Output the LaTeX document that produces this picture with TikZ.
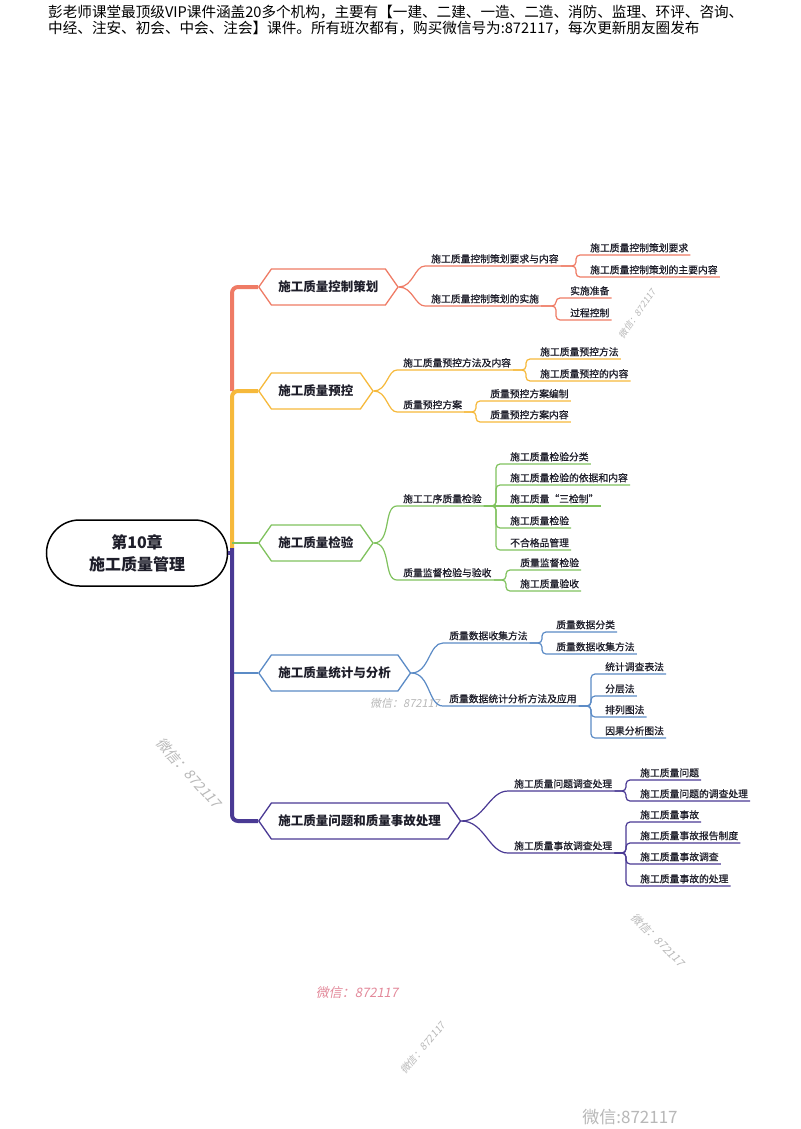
\documentclass[tikz,border=0pt]{standalone}
\usepackage{fontspec}
\setmainfont{Noto Sans CJK SC}
\newfontfamily\wmfont[FakeSlant=0.2]{Noto Sans CJK SC}
\newfontfamily\topicfont[FakeBold=0.7]{Noto Sans CJK SC}
\usetikzlibrary{shapes.symbols}

\definecolor{planred}{HTML}{EF7B65}
\definecolor{planyel}{HTML}{F6B93B}
\definecolor{plangrn}{HTML}{80C25E}
\definecolor{planblu}{HTML}{5B8BC6}
\definecolor{planpur}{HTML}{4A3A94}
\definecolor{inkcol}{HTML}{1E1E2A}
\definecolor{wmgray}{HTML}{B8B8B8}
\definecolor{wmpink}{HTML}{E3899A}

\begin{document}
\begin{tikzpicture}[x=1pt, y=-1pt,
    hexa/.style={signal, signal to=west and east, signal pointer angle=110,
      draw=#1, fill=white, line width=1.3, minimum height=36, inner xsep=7,
      anchor=west, text=inkcol, font=\bfseries\fontsize{12.5}{14}\selectfont},
    topic/.style={anchor=south west, inner xsep=2, inner ysep=2.5, text=inkcol,
      font=\topicfont\fontsize{9.8}{11}\selectfont},
    spine/.style={line width=4, rounded corners=6},
    hub/.style={line width=2.5},
    twig/.style={line width=1.2, rounded corners=4},
    wmark/.style={text=wmgray, font=\wmfont\fontsize{#1}{#1}\selectfont},
  ]
    \fill[white] (0,0) rectangle (800,1129);
    \useasboundingbox (0,0) rectangle (800,1129);

    % Header
    \node[anchor=west, inner sep=0, font=\fontsize{14.6}{16}\selectfont] (head1) at (48,12)
      {彭老师课堂最顶级VIP课件涵盖20多个机构，主要有【一建、二建、一造、二造、消防、监理、环评、咨询、};
    \node[anchor=west, inner sep=0, font=\fontsize{14.6}{16}\selectfont] (head2) at (48,28)
      {中经、注安、初会、中会、注会】课件。所有班次都有，购买微信号为:872117，每次更新朋友圈发布};

    % Watermarks
    \node[wmark=11] (wm2) at (405,703) {微信：872117};

    % Root
    \node[draw=black, line width=1.5, rounded corners=33, minimum width=181, minimum height=66,
      align=center, text=inkcol, font=\bfseries\fontsize{16}{22}\selectfont] (root) at (137,553)
      {第10章\\施工质量管理};

    % Main branches
    \node[hexa=planred] (plan) at (258,287) {施工质量控制策划};
    \node[hexa=planyel] (prev) at (258,391) {施工质量预控};
    \node[hexa=plangrn] (insp) at (258,543) {施工质量检验};
    \node[hexa=planblu] (stat) at (258,673) {施工质量统计与分析};
    \node[hexa=planpur] (fault) at (258,821) {施工质量问题和质量事故处理};

    % Spine
    \coordinate (sp1) at (232,391);
    \coordinate (sp2) at (232,548);
    \coordinate (sp3) at (232,543);
    \coordinate (sp4) at (232,673);
    \draw[planred, spine] (plan.west) -| (sp1);
    \draw[planyel, spine] (prev.west) -| (sp2);
    \draw[plangrn, hub] (sp3) -- (insp.west);
    \draw[planblu, hub] (sp4) -- (stat.west);
    \draw[planpur, spine] (sp2) |- (fault.west);
    \draw[planpur, line width=4] (root.east) -- (root.east -| sp2);

    % Branch 1
    \node[topic] (planreq) at (429,266) {施工质量控制策划要求与内容};
    \node[topic] (planreq1) at (588,255) {施工质量控制策划要求};
    \node[topic] (planreq2) at (588,277) {施工质量控制策划的主要内容};
    \node[topic] (planimp) at (429,306) {施工质量控制策划的实施};
    \node[topic] (planimp1) at (568,298) {实施准备};
    \node[topic] (planimp2) at (568,320) {过程控制};
    \draw[planred, twig] (plan.east) to[out=0, in=180] (planreq.south west) -- (planreq.south east);
    \draw[planred, twig] (plan.east) to[out=0, in=180] (planimp.south west) -- (planimp.south east);
    \draw[planred, twig] (planreq.south east) -| ([xshift=-12pt]planreq1.south west) -- (planreq1.south east);
    \draw[planred, twig] (planreq.south east) -| ([xshift=-12pt]planreq2.south west) -- (planreq2.south east);
    \draw[planred, twig] (planimp.south east) -| ([xshift=-12pt]planimp1.south west) -- (planimp1.south east);
    \draw[planred, twig] (planimp.south east) -| ([xshift=-12pt]planimp2.south west) -- (planimp2.south east);

    % Branch 2
    \node[topic] (prevway) at (401,370) {施工质量预控方法及内容};
    \node[topic] (prevway1) at (538,359) {施工质量预控方法};
    \node[topic] (prevway2) at (538,381) {施工质量预控的内容};
    \node[topic] (prevplan) at (401,412) {质量预控方案};
    \node[topic] (prevplan1) at (488,401) {质量预控方案编制};
    \node[topic] (prevplan2) at (488,422) {质量预控方案内容};
    \draw[planyel, twig] (prev.east) to[out=0, in=180] (prevway.south west) -- (prevway.south east);
    \draw[planyel, twig] (prev.east) to[out=0, in=180] (prevplan.south west) -- (prevplan.south east);
    \draw[planyel, twig] (prevway.south east) -| ([xshift=-12pt]prevway1.south west) -- (prevway1.south east);
    \draw[planyel, twig] (prevway.south east) -| ([xshift=-12pt]prevway2.south west) -- (prevway2.south east);
    \draw[planyel, twig] (prevplan.south east) -| ([xshift=-12pt]prevplan1.south west) -- (prevplan1.south east);
    \draw[planyel, twig] (prevplan.south east) -| ([xshift=-12pt]prevplan2.south west) -- (prevplan2.south east);

    % Branch 3
    \node[topic] (inspstep) at (401,506) {施工工序质量检验};
    \node[topic] (inspstep1) at (508,464) {施工质量检验分类};
    \node[topic] (inspstep2) at (508,485) {施工质量检验的依据和内容};
    \node[topic] (inspstep3) at (508,506) {施工质量“三检制”};
    \node[topic] (inspstep4) at (508,528) {施工质量检验};
    \node[topic] (inspstep5) at (508,550) {不合格品管理};
    \node[topic] (inspsup) at (401,580) {质量监督检验与验收};
    \node[topic] (inspsup1) at (518,570) {质量监督检验};
    \node[topic] (inspsup2) at (518,591) {施工质量验收};
    \draw[plangrn, twig] (insp.east) to[out=0, in=180] (inspstep.south west) -- (inspstep.south east);
    \draw[plangrn, twig] (insp.east) to[out=0, in=180] (inspsup.south west) -- (inspsup.south east);
    \draw[plangrn, twig] (inspstep.south east) -| ([xshift=-12pt]inspstep1.south west) -- (inspstep1.south east);
    \draw[plangrn, twig] (inspstep.south east) -| ([xshift=-12pt]inspstep2.south west) -- (inspstep2.south east);
    \draw[plangrn, twig] (inspstep.south east) -- (inspstep3.south west) -- (inspstep3.south east);
    \draw[plangrn, twig] (inspstep.south east) -| ([xshift=-12pt]inspstep4.south west) -- (inspstep4.south east);
    \draw[plangrn, twig] (inspstep.south east) -| ([xshift=-12pt]inspstep5.south west) -- (inspstep5.south east);
    \draw[plangrn, twig] (inspsup.south east) -| ([xshift=-12pt]inspsup1.south west) -- (inspsup1.south east);
    \draw[plangrn, twig] (inspsup.south east) -| ([xshift=-12pt]inspsup2.south west) -- (inspsup2.south east);

    % Branch 4
    \node[topic] (statget) at (447,643) {质量数据收集方法};
    \node[topic] (statget1) at (554,632) {质量数据分类};
    \node[topic] (statget2) at (554,654) {质量数据收集方法};
    \node[topic] (statuse) at (447,706) {质量数据统计分析方法及应用};
    \node[topic] (statuse1) at (603,674) {统计调查表法};
    \node[topic] (statuse2) at (603,696) {分层法};
    \node[topic] (statuse3) at (603,717) {排列图法};
    \node[topic] (statuse4) at (603,738) {因果分析图法};
    \draw[planblu, twig] (stat.east) to[out=0, in=180] (statget.south west) -- (statget.south east);
    \draw[planblu, twig] (stat.east) to[out=0, in=180] (statuse.south west) -- (statuse.south east);
    \draw[planblu, twig] (statget.south east) -| ([xshift=-12pt]statget1.south west) -- (statget1.south east);
    \draw[planblu, twig] (statget.south east) -| ([xshift=-12pt]statget2.south west) -- (statget2.south east);
    \draw[planblu, twig] (statuse.south east) -| ([xshift=-12pt]statuse1.south west) -- (statuse1.south east);
    \draw[planblu, twig] (statuse.south east) -| ([xshift=-12pt]statuse2.south west) -- (statuse2.south east);
    \draw[planblu, twig] (statuse.south east) -| ([xshift=-12pt]statuse3.south west) -- (statuse3.south east);
    \draw[planblu, twig] (statuse.south east) -| ([xshift=-12pt]statuse4.south west) -- (statuse4.south east);

    % Branch 5
    \node[topic] (faultask) at (512,791) {施工质量问题调查处理};
    \node[topic] (faultask1) at (638,780) {施工质量问题};
    \node[topic] (faultask2) at (638,801) {施工质量问题的调查处理};
    \node[topic] (faultacc) at (512,853) {施工质量事故调查处理};
    \node[topic] (faultacc1) at (638,822) {施工质量事故};
    \node[topic] (faultacc2) at (638,843) {施工质量事故报告制度};
    \node[topic] (faultacc3) at (638,864) {施工质量事故调查};
    \node[topic] (faultacc4) at (638,886) {施工质量事故的处理};
    \draw[planpur, twig] (fault.east) to[out=0, in=180] (faultask.south west) -- (faultask.south east);
    \draw[planpur, twig] (fault.east) to[out=0, in=180] (faultacc.south west) -- (faultacc.south east);
    \draw[planpur, twig] (faultask.south east) -| ([xshift=-12pt]faultask1.south west) -- (faultask1.south east);
    \draw[planpur, twig] (faultask.south east) -| ([xshift=-12pt]faultask2.south west) -- (faultask2.south east);
    \draw[planpur, twig] (faultacc.south east) -| ([xshift=-12pt]faultacc1.south west) -- (faultacc1.south east);
    \draw[planpur, twig] (faultacc.south east) -| ([xshift=-12pt]faultacc2.south west) -- (faultacc2.south east);
    \draw[planpur, twig] (faultacc.south east) -| ([xshift=-12pt]faultacc3.south west) -- (faultacc3.south east);
    \draw[planpur, twig] (faultacc.south east) -| ([xshift=-12pt]faultacc4.south west) -- (faultacc4.south east);

    % Watermarks
    \node[wmark=9, rotate=55] (wm1) at (637,314) {微信：872117};
    \node[wmark=14, rotate=-48] (wm3) at (189,773) {微信：872117};
    \node[wmark=11, rotate=-45] (wm4) at (658,940) {微信：872117};
    \node[wmark=13, text=wmpink] (wm5) at (357,993) {微信：872117};
    \node[wmark=10, rotate=50] (wm6) at (423,1048) {微信：872117};
    \node[text=wmgray, font=\fontsize{17}{17}\selectfont] (wm7) at (630,1117) {微信:872117};
\end{tikzpicture}
\end{document}
